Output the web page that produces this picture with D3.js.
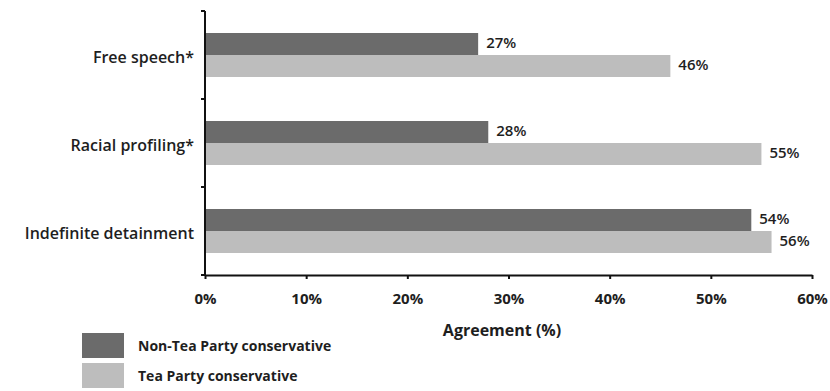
<!DOCTYPE html>
<html>
<head>
<meta charset="utf-8">
<script src="https://cdn.jsdelivr.net/npm/d3@7"></script>
<style>
  html, body { margin: 0; padding: 0; background: #fff; }
  svg { display: block; font-family: "Open Sans", "Noto Sans", sans-serif; }
</style>
</head>
<body>
<svg id="chart" width="830" height="391"></svg>
<script>
// Share agreeing with each statement, by group (%)
const categories = ["Free speech*", "Racial profiling*", "Indefinite detainment"];
const nonTeaParty = [27, 28, 54];
const teaParty = [46, 55, 56];
const seriesNames = ["Non-Tea Party conservative", "Tea Party conservative"];
const xTicks = [0, 10, 20, 30, 40, 50, 60];
const axisTitle = "Agreement (%)";

const colors = ["#6b6b6b", "#bdbdbd"];
const seriesValues = [nonTeaParty, teaParty];

const svg = d3.select("#chart");
const textColor = "#1e1e1e";

const x = d3.scaleLinear().domain([0, 60]).range([205, 812]);
const y = d3.scaleBand().domain(categories).range([11, 275]).padding(0);
const inner = d3.scaleBand().domain(seriesNames).range([22, 66]).padding(0);

// Bars
categories.forEach((cat, i) => {
  const g = svg.append("g").attr("transform", `translate(0,${y(cat)})`);
  seriesNames.forEach((s, k) => {
    const v = seriesValues[k][i];
    g.append("rect")
      .attr("x", x(0))
      .attr("y", inner(s))
      .attr("width", x(v) - x(0))
      .attr("height", inner.bandwidth())
      .attr("fill", colors[k]);
    g.append("text")
      .attr("x", x(v) + 8)
      .attr("y", inner(s) + inner.bandwidth() / 2 + 4)
      .attr("font-size", 15)
      .attr("font-weight", 600)
      .attr("fill", textColor)
      .text(v + "%");
  });
  // Category label
  svg.append("text")
    .attr("x", 194)
    .attr("y", y(cat) + y.bandwidth() / 2 + 8)
    .attr("text-anchor", "end")
    .attr("font-size", 16)
    .attr("font-weight", 600)
    .attr("fill", textColor)
    .text(cat);
});

// Vertical axis with ticks at the band boundaries
const yEdges = categories.map(c => y(c)).concat([y.range()[1]]);
svg.append("line")
  .attr("x1", x(0)).attr("x2", x(0))
  .attr("y1", y.range()[0]).attr("y2", y.range()[1])
  .attr("stroke", "#111").attr("stroke-width", 2);
svg.selectAll(".ytick").data(yEdges).enter().append("line")
  .attr("x1", x(0) - 4).attr("x2", x(0))
  .attr("y1", d => d).attr("y2", d => d)
  .attr("stroke", "#111").attr("stroke-width", 2);

// Horizontal axis
const xAxis = svg.append("g")
  .attr("transform", `translate(0,${y.range()[1]})`)
  .call(d3.axisBottom(x).tickValues(xTicks).tickFormat(d => d + "%").tickSize(4).tickSizeOuter(0).tickPadding(14));
xAxis.select(".domain").attr("stroke", "#111").attr("stroke-width", 2);
xAxis.selectAll(".tick line").attr("stroke", "#111").attr("stroke-width", 2);
xAxis.selectAll(".tick text")
  .attr("font-family", "'Open Sans', sans-serif")
  .attr("font-size", 15)
  .attr("font-weight", 700)
  .attr("fill", textColor);

svg.append("text")
  .attr("x", 502)
  .attr("y", 336)
  .attr("text-anchor", "middle")
  .attr("font-size", 16)
  .attr("font-weight", 700)
  .attr("fill", textColor)
  .text(axisTitle);

// Legend
const legend = svg.append("g").attr("transform", "translate(82,333)");
seriesNames.forEach((s, k) => {
  const row = legend.append("g").attr("transform", `translate(0,${k * 30})`);
  row.append("rect").attr("width", 42).attr("height", 25).attr("fill", colors[k]);
  row.append("text")
    .attr("x", 56).attr("y", 18)
    .attr("font-size", 14)
    .attr("font-weight", 700)
    .attr("fill", textColor)
    .text(s);
});
</script>
</body>
</html>
